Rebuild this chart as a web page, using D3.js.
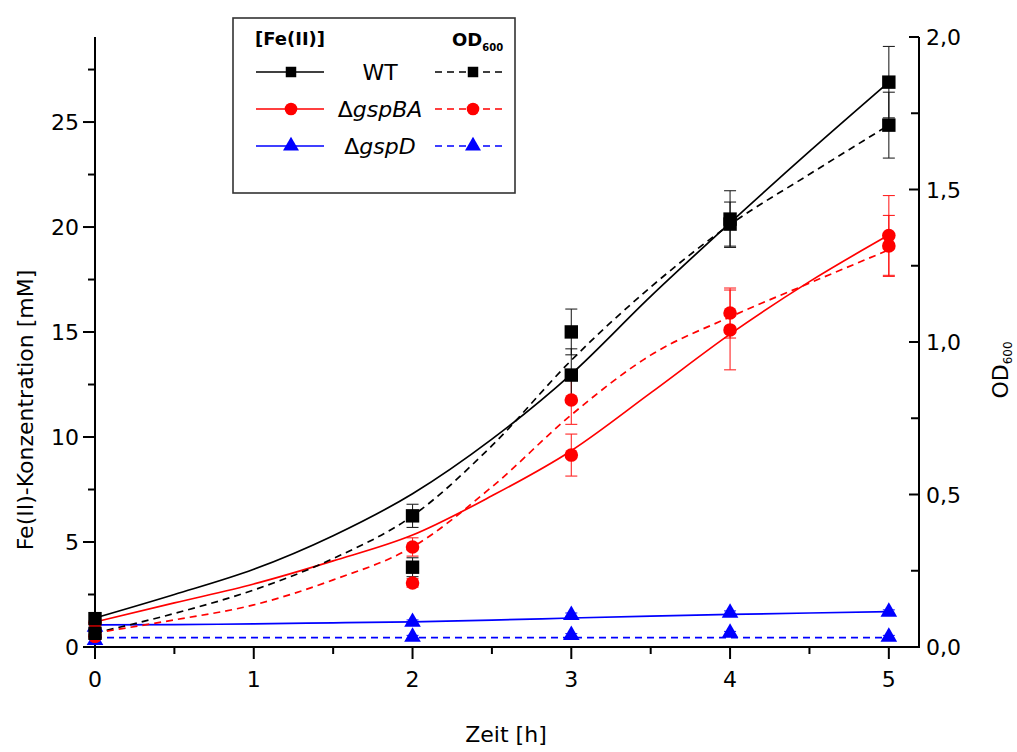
<!DOCTYPE html>
<html>
<head>
<meta charset="utf-8">
<script src="https://cdn.jsdelivr.net/npm/d3@7"></script>
<style>
  html, body { margin: 0; padding: 0; background: #fff; }
  svg { display: block; font-family: "DejaVu Sans", sans-serif; }
</style>
</head>
<body>
<svg id="chart" width="1017" height="752"></svg>
<script>
// Sampling times of the measurements [h]
const times = [0, 2, 3, 4, 5];

// Fe(II) concentration [mM] (mean and error) per strain
const feWT = [1.35, 3.8, 12.95, 20.14, 26.9];
const feWTErr = [0.2, 0.45, 1.25, 1.05, 1.7];
const feBA = [1.15, 3.05, 9.14, 15.1, 19.6];
const feBAErr = [0.15, 0.2, 1.0, 1.9, 1.9];
const feD = [0.95, 1.19, 1.52, 1.62, 1.67];
const feDErr = [0.1, 0.1, 0.1, 0.1, 0.1];

// OD600 (mean and error) per strain
const odWT = [0.045, 0.43, 1.033, 1.403, 1.711];
const odWTErr = [0.01, 0.038, 0.075, 0.093, 0.108];
const odBA = [0.035, 0.328, 0.81, 1.095, 1.315];
const odBAErr = [0.01, 0.03, 0.08, 0.082, 0.1];
const odD = [0.022, 0.033, 0.039, 0.046, 0.033];
const odDErr = [0.005, 0.005, 0.005, 0.005, 0.005];

// Fitted growth curves, sampled every half hour
const fitTimes = [0, 0.5, 1, 1.5, 2, 2.5, 3, 3.5, 4, 4.5, 5];
const feFitWT = [1.38, 2.5, 3.7, 5.3, 7.3, 9.9, 13.0, 16.7, 20.2, 23.6, 26.9];
const feFitBA = [1.19, 2.1, 3.0, 4.1, 5.33, 7.2, 9.35, 12.1, 14.9, 17.4, 19.62];
const feFitD = [1.05, 1.07, 1.1, 1.15, 1.2, 1.28, 1.38, 1.47, 1.55, 1.62, 1.68];
const odFitWT = [0.046, 0.11, 0.187, 0.29, 0.43, 0.66, 0.94, 1.18, 1.385, 1.55, 1.711];
const odFitBA = [0.046, 0.089, 0.138, 0.22, 0.328, 0.525, 0.761, 0.957, 1.082, 1.193, 1.302];
const odFitD = [0.031, 0.031, 0.031, 0.031, 0.031, 0.031, 0.031, 0.031, 0.031, 0.031, 0.031];

// Axis ticks
const xTicks = [0, 1, 2, 3, 4, 5];
const xMinor = [0.5, 1.5, 2.5, 3.5, 4.5];
const yLeftTicks = [0, 5, 10, 15, 20, 25];
const yLeftMinor = [2.5, 7.5, 12.5, 17.5, 22.5, 27.5];
const yRightTicks = [0, 0.5, 1.0, 1.5, 2.0];
const yRightMinor = [0.25, 0.75, 1.25, 1.75];

const strainNames = ["WT", "gspBA", "gspD"];
const strainColors = ["#000000", "#ff0000", "#0000ff"];
const strainSymbols = [d3.symbolSquare, d3.symbolCircle, d3.symbolTriangle];
const symbolSizes = [180, 145, 120];

const svg = d3.select("#chart");
const plotLeft = 95, plotRight = 919, plotTop = 37, plotBottom = 647;

const x = d3.scaleLinear().domain([0, 5.19]).range([plotLeft, plotRight]);
const yL = d3.scaleLinear().domain([0, 29.05]).range([plotBottom, plotTop]);
const yR = d3.scaleLinear().domain([0, 2.0]).range([plotBottom, plotTop]);

const fontSize = 22;

// ---- axes ----
const axes = svg.append("g").attr("stroke", "#000").attr("stroke-width", 2).attr("fill", "none");
axes.append("line").attr("x1", plotLeft).attr("x2", plotLeft).attr("y1", plotTop).attr("y2", plotBottom + 1);
axes.append("line").attr("x1", plotRight).attr("x2", plotRight).attr("y1", plotTop).attr("y2", plotBottom + 1);
axes.append("line").attr("x1", plotLeft - 1).attr("x2", plotRight + 1).attr("y1", plotBottom).attr("y2", plotBottom);

// bottom ticks (outward)
xTicks.forEach(t => axes.append("line").attr("x1", x(t)).attr("x2", x(t)).attr("y1", plotBottom).attr("y2", plotBottom + 12));
xMinor.forEach(t => axes.append("line").attr("x1", x(t)).attr("x2", x(t)).attr("y1", plotBottom).attr("y2", plotBottom + 7));
// left ticks (outward)
yLeftTicks.forEach(v => axes.append("line").attr("x1", plotLeft - 12).attr("x2", plotLeft).attr("y1", yL(v)).attr("y2", yL(v)));
yLeftMinor.forEach(v => axes.append("line").attr("x1", plotLeft - 7).attr("x2", plotLeft).attr("y1", yL(v)).attr("y2", yL(v)));
// right ticks (inward)
yRightTicks.forEach(v => axes.append("line").attr("x1", plotRight - 10).attr("x2", plotRight).attr("y1", yR(v)).attr("y2", yR(v)));
yRightMinor.forEach(v => axes.append("line").attr("x1", plotRight - 8).attr("x2", plotRight).attr("y1", yR(v)).attr("y2", yR(v)));

const labels = svg.append("g").attr("fill", "#000").attr("font-size", fontSize);
xTicks.forEach(t => labels.append("text").attr("x", x(t)).attr("y", plotBottom + 40)
  .attr("text-anchor", "middle").text(t));
yLeftTicks.forEach(v => labels.append("text").attr("x", plotLeft - 16).attr("y", yL(v) + 8)
  .attr("text-anchor", "end").text(v));
yRightTicks.forEach(v => labels.append("text").attr("x", plotRight + 7).attr("y", yR(v) + 8)
  .attr("text-anchor", "start").text(d3.format(".1f")(v).replace(".", ",")));

// axis titles
labels.append("text").attr("x", 506).attr("y", 742)
  .attr("text-anchor", "middle").text("Zeit [h]");
labels.append("text").attr("transform", "translate(33,410) rotate(-90)")
  .attr("text-anchor", "middle").text("Fe(II)-Konzentration [mM]");
const odTitle = labels.append("text").attr("transform", "translate(1008,370) rotate(-90)")
  .attr("text-anchor", "middle");
odTitle.append("tspan").text("OD");
odTitle.append("tspan").attr("font-size", 12).attr("dy", 4).text("600");

// ---- fitted curves ----
const plot = svg.append("g");
const lineL = d3.line().x((d, i) => x(fitTimes[i])).y(d => yL(d)).curve(d3.curveMonotoneX);
const lineR = d3.line().x((d, i) => x(fitTimes[i])).y(d => yR(d)).curve(d3.curveMonotoneX);

const feFits = [feFitWT, feFitBA, feFitD];
const odFits = [odFitWT, odFitBA, odFitD];
feFits.forEach((f, i) => plot.append("path").attr("d", lineL(f)).attr("fill", "none")
  .attr("stroke", strainColors[i]).attr("stroke-width", 1.7));
odFits.forEach((f, i) => plot.append("path").attr("d", lineR(f)).attr("fill", "none")
  .attr("stroke", strainColors[i]).attr("stroke-width", 1.7).attr("stroke-dasharray", "7,5"));

// ---- error bars + markers ----
const feMeans = [feWT, feBA, feD], feErrs = [feWTErr, feBAErr, feDErr];
const odMeans = [odWT, odBA, odD], odErrs = [odWTErr, odBAErr, odDErr];

function errorBars(means, errs, scale, color) {
  const g = plot.append("g").attr("stroke", color).attr("stroke-width", 1.1).attr("opacity", 0.85);
  means.forEach((m, i) => {
    const cx = x(times[i]);
    const y1 = scale(m - errs[i]), y2 = scale(m + errs[i]);
    g.append("line").attr("x1", cx).attr("x2", cx).attr("y1", y1).attr("y2", y2);
    g.append("line").attr("x1", cx - 6).attr("x2", cx + 6).attr("y1", y1).attr("y2", y1);
    g.append("line").attr("x1", cx - 6).attr("x2", cx + 6).attr("y1", y2).attr("y2", y2);
  });
}
function markers(means, scale, k) {
  const sym = d3.symbol().type(strainSymbols[k]).size(symbolSizes[k]);
  means.forEach((m, i) => {
    plot.append("path").attr("d", sym())
      .attr("transform", `translate(${x(times[i])},${scale(m)})`)
      .attr("fill", strainColors[k]);
  });
}
[2, 1, 0].forEach(k => {
  errorBars(feMeans[k], feErrs[k], yL, strainColors[k]);
  errorBars(odMeans[k], odErrs[k], yR, strainColors[k]);
});
[2, 1, 0].forEach(k => {
  markers(feMeans[k], yL, k);
  markers(odMeans[k], yR, k);
});

// ---- legend ----
const lg = svg.append("g");
lg.append("rect").attr("x", 233).attr("y", 18).attr("width", 282).attr("height", 175)
  .attr("fill", "#fff").attr("stroke", "#333").attr("stroke-width", 1.6);
lg.append("text").attr("x", 290).attr("y", 45).attr("text-anchor", "middle")
  .attr("font-size", 18).attr("font-weight", "bold").text("[Fe(II)]");
const odLeg = lg.append("text").attr("x", 452).attr("y", 46)
  .attr("font-size", 18).attr("font-weight", "bold");
odLeg.append("tspan").text("OD");
odLeg.append("tspan").attr("font-size", 10).attr("dy", 5).text("600");

const rowY = [72, 109, 146];
const legSizes = [110, 125, 110];
strainNames.forEach((name, k) => {
  const yy = rowY[k];
  lg.append("line").attr("x1", 256).attr("x2", 324).attr("y1", yy).attr("y2", yy)
    .attr("stroke", strainColors[k]).attr("stroke-width", 1.7);
  lg.append("line").attr("x1", 435).attr("x2", 504).attr("y1", yy).attr("y2", yy)
    .attr("stroke", strainColors[k]).attr("stroke-width", 1.7).attr("stroke-dasharray", "7,5");
  const sym = d3.symbol().type(strainSymbols[k]).size(legSizes[k]);
  lg.append("path").attr("d", sym()).attr("transform", `translate(291,${yy})`).attr("fill", strainColors[k]);
  lg.append("path").attr("d", sym()).attr("transform", `translate(473,${yy})`).attr("fill", strainColors[k]);
  const t = lg.append("text").attr("x", 380).attr("y", yy + 8).attr("text-anchor", "middle")
    .attr("font-size", fontSize);
  if (k === 0) {
    t.text(name);
  } else {
    t.append("tspan").text("\u0394");
    t.append("tspan").attr("font-style", "italic").text(name);
  }
});
</script>
</body>
</html>
